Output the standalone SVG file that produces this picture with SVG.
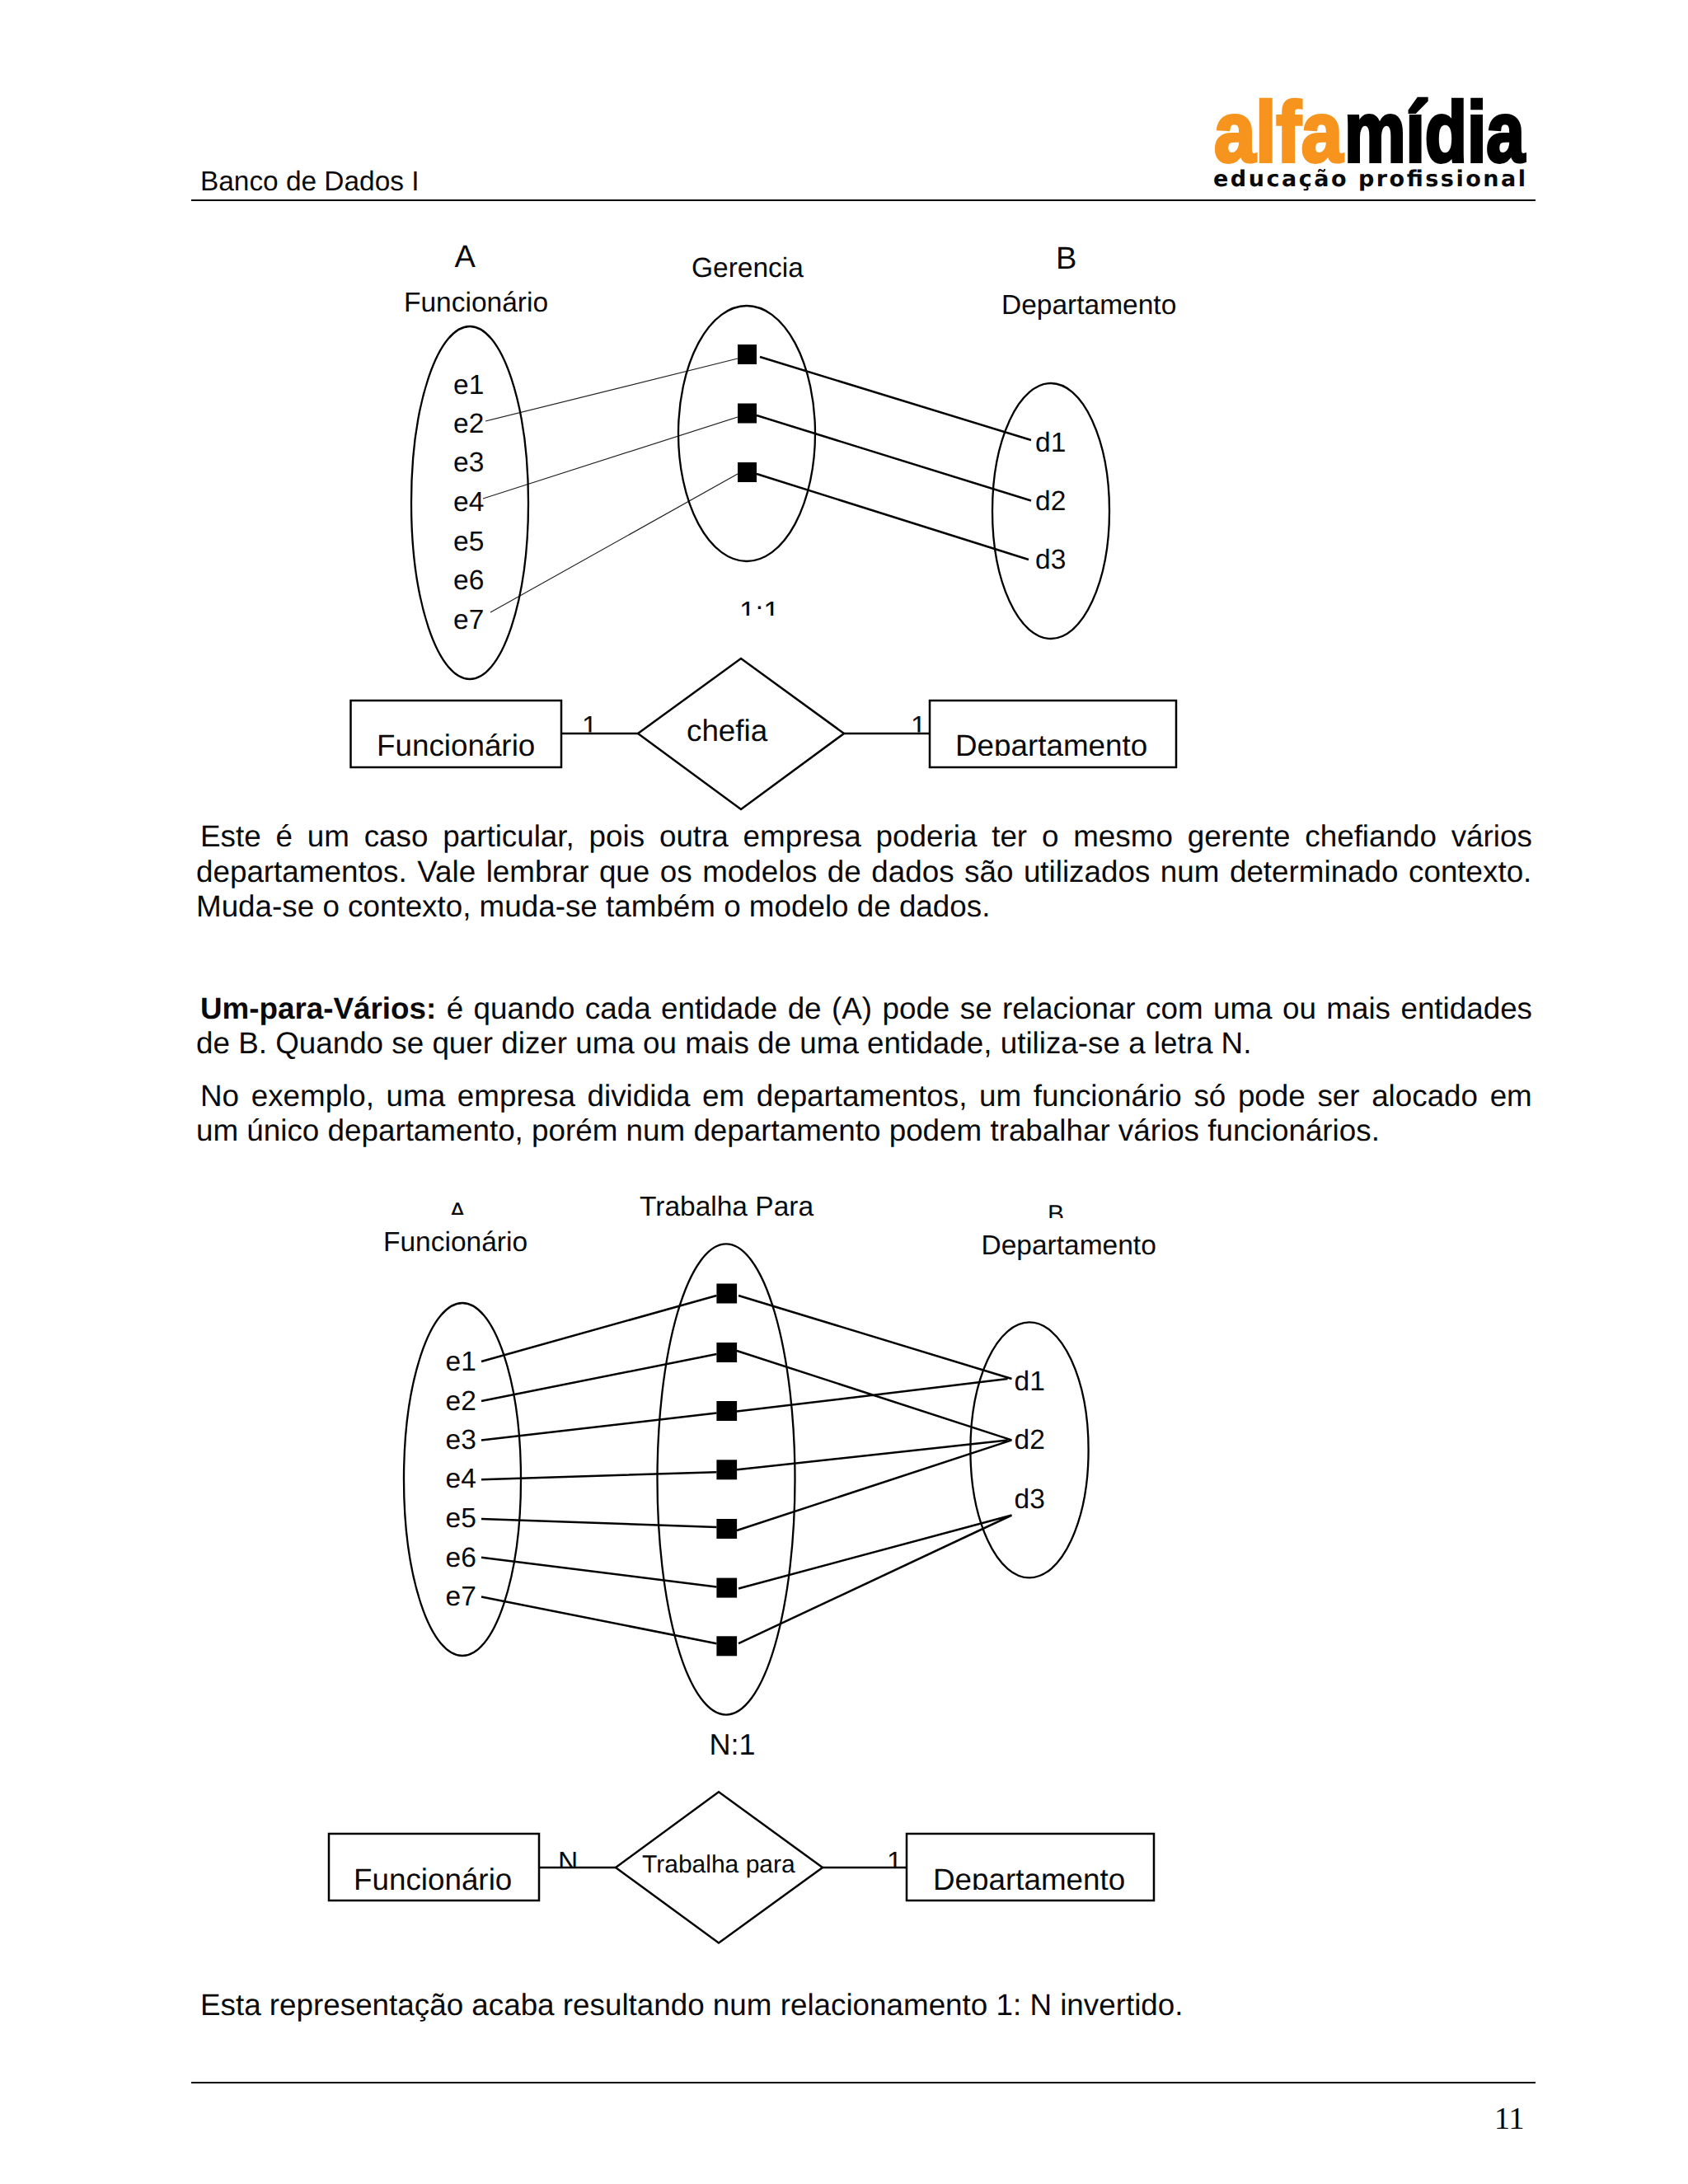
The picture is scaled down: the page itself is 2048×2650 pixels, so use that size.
<svg xmlns="http://www.w3.org/2000/svg" width="2048" height="2650" viewBox="0 0 2048 2650">
<style>
text{font-family:"Liberation Sans",Arial,sans-serif;fill:#0a0a0a;text-rendering:geometricPrecision}
.b{font-size:36.8px}
.d{font-size:33.5px}
.e{font-size:36.8px}
.o{fill:none;stroke:#000;stroke-width:2.3}
.s{fill:#000}
.t{fill:none;stroke:#000;stroke-width:2.5}
.n{fill:none;stroke:#222;stroke-width:1.2}
.r{fill:#fff;stroke:#000;stroke-width:2.5}
.h{stroke:#000;stroke-width:2.5}
</style>
<defs>
<clipPath id="c11"><rect x="880" y="700" width="90" height="47"/></clipPath>
<clipPath id="ce1"><rect x="690" y="850" width="450" height="38.5"/></clipPath>
<clipPath id="cd1"><rect x="1130" y="850" width="295" height="67"/></clipPath>
<clipPath id="cA"><rect x="530" y="1440" width="60" height="34"/></clipPath>
<clipPath id="cB"><rect x="1250" y="1440" width="60" height="38"/></clipPath>
<clipPath id="ce2"><rect x="660" y="2226" width="60" height="39"/></clipPath>
<clipPath id="ce3"><rect x="1060" y="2226" width="39" height="39"/></clipPath>
<clipPath id="cd2"><rect x="1102" y="2226" width="295" height="67"/></clipPath>
</defs>
<rect width="2048" height="2650" fill="#fff"/>

<g id="header">
<text x="243" y="231" style="font-size:33.4px">Banco de Dados I</text>
<line x1="232" y1="243" x2="1863" y2="243" stroke="#000" stroke-width="2"/>
<g id="logo">
<text x="1473" y="196" textLength="156" lengthAdjust="spacingAndGlyphs" style="font-size:104px;font-weight:bold;fill:#f7941d;stroke:#f7941d;stroke-width:4">alfa</text>
<text x="1631" y="196" textLength="219" lengthAdjust="spacingAndGlyphs" style="font-size:104px;font-weight:bold;fill:#000;stroke:#000;stroke-width:4">mídia</text>
<text x="1472" y="226" textLength="379" lengthAdjust="spacing" style="font-family:'DejaVu Sans',sans-serif;font-size:27px;font-weight:bold">educação profissional</text>
</g>
</g>

<g id="connectors">
<path class="n" d="M589 511L895 435M586 605L895 506M595 743L895 575"/>
<path class="t" d="M922 433L1251 534M918 504L1251 607.5M918 575L1248 679"/>
<path class="t" d="M584 1652L869.400 1572M584 1700L869.400 1643M584 1747.400L869.400 1714.600M584 1795.200L869.400 1786.200M584 1843L869.400 1853M584 1889.700L869.400 1925.600M584 1937.500L869.400 1994.200"/>
<path class="t" d="M896 1572L1227.500 1673M894 1639L1227.500 1747.400M894 1712.600L1222.500 1673M894 1783.300L1222.500 1747.400M894 1857L1227.500 1747.400M896 1927.500L1227.500 1838.500M896 1994.200L1227.500 1838.500"/>
<path class="h" d="M681 890H774M1024 890H1128M654 2266H747M998 2266H1100"/>
</g>

<g id="set-a1">
<text x="551.500" y="324" style="font-size:38px">A</text>
<text class="d" x="490" y="378">Funcionário</text>
<ellipse class="o" cx="570" cy="610" rx="71" ry="214"/>
<text class="d" x="550" y="478">e1</text><text class="d" x="550" y="525">e2</text><text class="d" x="550" y="572">e3</text><text class="d" x="550" y="620">e4</text><text class="d" x="550" y="668">e5</text><text class="d" x="550" y="715">e6</text><text class="d" x="550" y="763">e7</text>
</g>
<g id="set-r1">
<text class="d" x="839" y="336">Gerencia</text>
<ellipse class="o" cx="906" cy="526" rx="83" ry="155"/>
<rect class="s" x="895" y="418" width="23" height="24"/><rect class="s" x="895" y="489.500" width="23" height="24"/><rect class="s" x="895" y="561" width="23" height="24"/>
<text x="897" y="754" clip-path="url(#c11)" style="font-size:35px">1:1</text>
</g>
<g id="set-b1">
<text x="1281" y="326" style="font-size:38px">B</text>
<text class="d" x="1215" y="381">Departamento</text>
<ellipse class="o" cx="1275" cy="620" rx="71" ry="155"/>
<text class="d" x="1256" y="548">d1</text><text class="d" x="1256" y="619">d2</text><text class="d" x="1256" y="690">d3</text>
</g>
<g id="entity-func1">
<rect class="r" x="425.500" y="850" width="255.500" height="81"/>
<text class="e" x="457" y="916.500">Funcionário</text>
<text class="d" x="706" y="892" clip-path="url(#ce1)">1</text>
</g>
<g id="rel-chefia">
<polygon class="r" points="774,890 899,799 1024,890 899,982"/>
<text class="e" x="833" y="898.500">chefia</text>
</g>
<g id="entity-dep1">
<rect class="r" x="1128" y="850" width="299" height="81"/>
<text class="e" x="1159" y="916.500" clip-path="url(#cd1)">Departamento</text>
<text class="d" x="1105" y="892" clip-path="url(#ce1)">1</text>
</g>

<g id="paragraphs">
<text class="b" x="243" y="1027" word-spacing="7.6">Este é um caso particular, pois outra empresa poderia ter o mesmo gerente chefiando vários</text>
<text class="b" x="238" y="1069.500" word-spacing="2.3">departamentos. Vale lembrar que os modelos de dados são utilizados num determinado contexto.</text>
<text class="b" x="238" y="1112">Muda-se o contexto, muda-se também o modelo de dados.</text>
<text class="b" x="243" y="1236" word-spacing="2.2"><tspan font-weight="bold">Um-para-Vários:</tspan> é quando cada entidade de (A) pode se relacionar com uma ou mais entidades</text>
<text class="b" x="238" y="1278">de B. Quando se quer dizer uma ou mais de uma entidade, utiliza-se a letra N.</text>
<text class="b" x="243" y="1342" word-spacing="4.4">No exemplo, uma empresa dividida em departamentos, um funcionário só pode ser alocado em</text>
<text class="b" x="238" y="1384">um único departamento, porém num departamento podem trabalhar vários funcionários.</text>
<text class="b" x="243" y="2444.500">Esta representação acaba resultando num relacionamento 1: N invertido.</text>
</g>

<g id="set-a2">
<text x="545" y="1479.500" clip-path="url(#cA)" style="font-size:30px">A</text>
<text class="d" x="465" y="1518">Funcionário</text>
<ellipse class="o" cx="561" cy="1795" rx="71" ry="214"/>
<text class="d" x="540.500" y="1663.400">e1</text><text class="d" x="540.500" y="1710.600">e2</text><text class="d" x="540.500" y="1758.400">e3</text><text class="d" x="540.500" y="1805.200">e4</text><text class="d" x="540.500" y="1853">e5</text><text class="d" x="540.500" y="1900.700">e6</text><text class="d" x="540.500" y="1948.400">e7</text>
</g>
<g id="set-r2">
<text class="d" x="776" y="1475">Trabalha Para</text>
<ellipse class="o" cx="881" cy="1795" rx="83.500" ry="285.600"/>
<rect class="s" x="869.400" y="1557.500" width="24.700" height="24"/><rect class="s" x="869.400" y="1629" width="24.700" height="24"/><rect class="s" x="869.400" y="1700" width="24.700" height="24"/><rect class="s" x="869.400" y="1771.300" width="24.700" height="24"/><rect class="s" x="869.400" y="1843" width="24.700" height="24"/><rect class="s" x="869.400" y="1914.600" width="24.700" height="24"/><rect class="s" x="869.400" y="1985.300" width="24.700" height="24"/>
<text x="860.500" y="2128.500" style="font-size:36px">N:1</text>
</g>
<g id="set-b2">
<text x="1271" y="1482.500" clip-path="url(#cB)" style="font-size:30px">B</text>
<text class="d" x="1190.500" y="1521.500">Departamento</text>
<ellipse class="o" cx="1249" cy="1759.400" rx="71.600" ry="155"/>
<text class="d" x="1230.500" y="1686.700">d1</text><text class="d" x="1230.500" y="1758.400">d2</text><text class="d" x="1230.500" y="1830">d3</text>
</g>
<g id="entity-func2">
<rect class="r" x="399" y="2225" width="255" height="81"/>
<text class="e" x="429" y="2292.500">Funcionário</text>
<text class="d" x="677" y="2270" clip-path="url(#ce2)">N</text>
</g>
<g id="rel-trabalha">
<polygon class="r" points="747,2266 872,2174.300 998,2266 872,2357.400"/>
<text x="779" y="2272" style="font-size:30px">Trabalha para</text>
</g>
<g id="entity-dep2">
<rect class="r" x="1100" y="2225" width="300" height="81"/>
<text class="e" x="1132" y="2292.500" clip-path="url(#cd2)">Departamento</text>
<text class="d" x="1076" y="2270" clip-path="url(#ce3)">1</text>
</g>

<g id="footer">
<line x1="232" y1="2527" x2="1863" y2="2527" stroke="#000" stroke-width="2"/>
<text x="1813" y="2583" style="font-family:'Liberation Serif',serif;font-size:38px">11</text>
</g>
</svg>
